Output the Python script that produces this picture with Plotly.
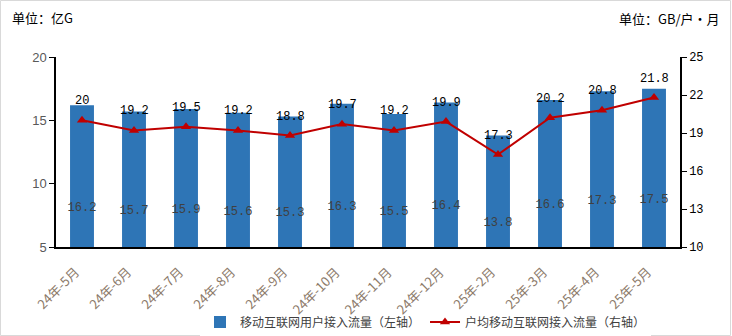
import plotly.graph_objects as go

# Monthly mobile internet traffic
months = ["24年-5月", "24年-6月", "24年-7月", "24年-8月", "24年-9月", "24年-10月",
          "24年-11月", "24年-12月", "25年-2月", "25年-3月", "25年-4月", "25年-5月"]
total_traffic = [16.2, 15.7, 15.9, 15.6, 15.3, 16.3, 15.5, 16.4, 13.8, 16.6, 17.3, 17.5]   # 亿G (left axis)
per_user_traffic = [20, 19.2, 19.5, 19.2, 18.8, 19.7, 19.2, 19.9, 17.3, 20.2, 20.8, 21.8]  # GB/户·月 (right axis)

left_ticks = [5, 10, 15, 20]
right_ticks = [10, 13, 16, 19, 22, 25]

CJK = "Noto Sans CJK SC"
MONO = "Liberation Mono"
BLUE = "#2E75B6"
RED = "#C00000"

W, H = 732, 336
ML, MR, MT, MB = 56, 52, 57, 89
PW, PH = W - ML - MR, H - MT - MB

fig = go.Figure()

fig.add_trace(go.Bar(
    x=months, y=total_traffic, name="移动互联网用户接入流量（左轴）",
    marker=dict(color=BLUE, line=dict(width=0)),
    text=[str(v) for v in total_traffic], textposition="inside",
    insidetextanchor="middle", textangle=0, constraintext="none",
    textfont=dict(family=MONO, size=12, color="#404040"),
    yaxis="y",
))

fig.add_trace(go.Scatter(
    x=months, y=per_user_traffic, name="户均移动互联网接入流量（右轴）",
    mode="lines+markers",
    line=dict(color=RED, width=2),
    marker=dict(symbol="triangle-up", size=9, color=RED),
    yaxis="y2",
))

# value labels above the line points
for m, v in zip(months, per_user_traffic):
    fig.add_annotation(x=m, y=v, yref="y2", text=f"{v:g}", showarrow=False,
                       yshift=19, font=dict(family=MONO, size=12, color="#000000"))

# slanted category labels under the x axis
for m in months:
    fig.add_annotation(x=m, y=0, yref="paper", text=m, showarrow=False,
                       textangle=-45, xanchor="right", yanchor="top",
                       xshift=4, yshift=-13,
                       font=dict(family=CJK, size=13, color="#8C7A6A"))

# unit captions
fig.add_annotation(xref="paper", yref="paper", x=(10 - ML) / PW, y=1 + (MT - 17) / PH,
                   text="单位：亿G", showarrow=False, xanchor="left", yanchor="middle",
                   font=dict(family=CJK, size=13, color="#000000"))
fig.add_annotation(xref="paper", yref="paper", x=(722 - ML) / PW, y=1 + (MT - 18) / PH,
                   text="单位：GB/户·月", showarrow=False, xanchor="right", yanchor="middle",
                   font=dict(family=CJK, size=13, color="#000000"))

# outer chart border
fig.add_shape(type="rect", xref="paper", yref="paper",
              x0=(0.5 - ML) / PW, x1=(W - 1.5 - ML) / PW,
              y0=-(MB - 0.5) / PH, y1=1 + (MT - 0.5) / PH,
              line=dict(color="#D9D9D9", width=1), fillcolor="rgba(0,0,0,0)")

fig.update_layout(
    width=W, height=H,
    margin=dict(l=ML, r=MR, t=MT, b=MB, autoexpand=False),
    paper_bgcolor="white", plot_bgcolor="white",
    bargap=0.54,
    showlegend=True,
    legend=dict(orientation="h", x=(200 - ML) / PW, xanchor="left", y=-(MB - 14) / PH, yanchor="middle",
                font=dict(family=CJK, size=12, color="#404040"),
                itemwidth=30, tracegroupgap=0),
    xaxis=dict(
        type="category", range=[-0.5, len(months) - 0.5], autorange=False,
        showgrid=False, showline=True, linecolor="#000000", linewidth=1.5,
        ticks="", showticklabels=False, automargin=False,
    ),
    yaxis=dict(
        range=[5, 20], tickvals=left_ticks, showgrid=False, zeroline=False,
        showline=True, linecolor="#000000", linewidth=1.5, automargin=False,
        ticks="outside", ticklen=5, tickcolor="#000000",
        tickfont=dict(family="Liberation Sans", size=13, color="#595959"),
    ),
    yaxis2=dict(
        range=[10, 25], tickvals=right_ticks, overlaying="y", side="right",
        showgrid=False, zeroline=False, automargin=False,
        showline=True, linecolor="#000000", linewidth=1.5,
        ticks="outside", ticklen=5, tickcolor="#000000",
        tickfont=dict(family=MONO, size=12, color="#000000"),
    ),
)

fig.write_html("out.html")
